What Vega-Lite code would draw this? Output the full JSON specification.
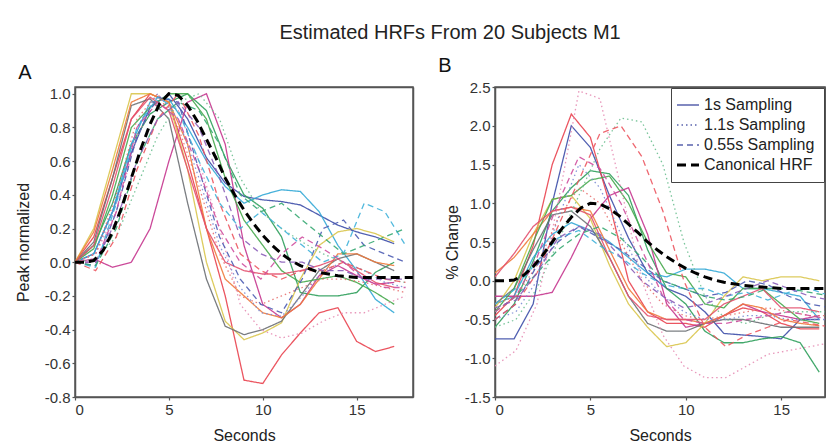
{
"$schema":"https://vega.github.io/schema/vega-lite/v6.json",
"padding":{"left":14,"top":23,"right":0,"bottom":0},
"title":{"text":"Estimated HRFs From 20 Subjects M1","fontSize":20,"fontWeight":"normal","font":"Liberation Sans","color":"#222","anchor":"middle","dx":30,"offset":12},
"config":{"view":{"stroke":"#555","strokeWidth":1.5},"font":"Liberation Sans",
"axis":{"grid":false,"domain":true,"domainColor":"#555","domainWidth":1.5,"labelFont":"Liberation Sans","labelFontSize":15,"labelColor":"#333","titleFont":"Liberation Sans","titleFontSize":16,"titleFontWeight":"normal","titleColor":"#222","tickColor":"#555","tickWidth":1.2,"tickSize":3,"labelPadding":2},
"title":{"font":"Liberation Sans"}},
"datasets":{
"subjects":[{"s":"S01","k":"1s Sampling"},{"s":"S02","k":"1s Sampling"},{"s":"S03","k":"1s Sampling"},{"s":"S04","k":"1s Sampling"},{"s":"S05","k":"1s Sampling"},{"s":"S06","k":"1s Sampling"},{"s":"S07","k":"1s Sampling"},{"s":"S08","k":"1s Sampling"},{"s":"S09","k":"1s Sampling"},{"s":"S10","k":"1s Sampling"},{"s":"S11","k":"1.1s Sampling"},{"s":"S12","k":"1.1s Sampling"},{"s":"S13","k":"1.1s Sampling"},{"s":"S14","k":"1.1s Sampling"},{"s":"S15","k":"0.55s Sampling"},{"s":"S16","k":"0.55s Sampling"},{"s":"S17","k":"0.55s Sampling"},{"s":"S18","k":"0.55s Sampling"},{"s":"S19","k":"0.55s Sampling"},{"s":"S20","k":"0.55s Sampling"},{"s":"HRF","k":"Canonical HRF"}],
"A":[
{"s":"S01","t":0,"v":0},{"s":"S01","t":1,"v":0.05},{"s":"S01","t":2,"v":0.3},{"s":"S01","t":3,"v":0.65},{"s":"S01","t":4,"v":0.92},{"s":"S01","t":5,"v":1.0},{"s":"S01","t":6,"v":0.85},{"s":"S01","t":7,"v":0.62},{"s":"S01","t":8,"v":0.47},{"s":"S01","t":9,"v":0.39},{"s":"S01","t":10,"v":0.37},{"s":"S01","t":11,"v":0.36},{"s":"S01","t":12,"v":0.34},{"s":"S01","t":13,"v":0.28},{"s":"S01","t":14,"v":0.22},{"s":"S01","t":15,"v":0.18},{"s":"S01","t":16,"v":0.15},{"s":"S01","t":17,"v":0.11},
{"s":"S02","t":0,"v":0},{"s":"S02","t":1,"v":0.1},{"s":"S02","t":2,"v":0.35},{"s":"S02","t":3,"v":0.7},{"s":"S02","t":4,"v":0.88},{"s":"S02","t":5,"v":0.95},{"s":"S02","t":6,"v":1.0},{"s":"S02","t":7,"v":0.9},{"s":"S02","t":8,"v":0.62},{"s":"S02","t":9,"v":0.4},{"s":"S02","t":10,"v":0.32},{"s":"S02","t":11,"v":0.15},{"s":"S02","t":12,"v":-0.18},{"s":"S02","t":13,"v":-0.2},{"s":"S02","t":14,"v":-0.2},{"s":"S02","t":15,"v":-0.18},{"s":"S02","t":16,"v":-0.06},{"s":"S02","t":17,"v":0.0},
{"s":"S03","t":0,"v":0},{"s":"S03","t":1,"v":0.15},{"s":"S03","t":2,"v":0.5},{"s":"S03","t":3,"v":0.85},{"s":"S03","t":4,"v":1.0},{"s":"S03","t":5,"v":0.95},{"s":"S03","t":6,"v":0.6},{"s":"S03","t":7,"v":0.2},{"s":"S03","t":8,"v":-0.2},{"s":"S03","t":9,"v":-0.7},{"s":"S03","t":10,"v":-0.72},{"s":"S03","t":11,"v":-0.55},{"s":"S03","t":12,"v":-0.42},{"s":"S03","t":13,"v":-0.3},{"s":"S03","t":14,"v":-0.27},{"s":"S03","t":15,"v":-0.47},{"s":"S03","t":16,"v":-0.53},{"s":"S03","t":17,"v":-0.5},
{"s":"S04","t":0,"v":0},{"s":"S04","t":1,"v":0.05},{"s":"S04","t":2,"v":0.3},{"s":"S04","t":3,"v":0.7},{"s":"S04","t":4,"v":0.95},{"s":"S04","t":5,"v":0.97},{"s":"S04","t":6,"v":0.8},{"s":"S04","t":7,"v":0.6},{"s":"S04","t":8,"v":0.45},{"s":"S04","t":9,"v":0.35},{"s":"S04","t":10,"v":0.4},{"s":"S04","t":11,"v":0.43},{"s":"S04","t":12,"v":0.42},{"s":"S04","t":13,"v":0.3},{"s":"S04","t":14,"v":0.1},{"s":"S04","t":15,"v":-0.05},{"s":"S04","t":16,"v":-0.22},{"s":"S04","t":17,"v":-0.3},
{"s":"S05","t":0,"v":0},{"s":"S05","t":1,"v":0.02},{"s":"S05","t":2,"v":-0.03},{"s":"S05","t":3,"v":0.0},{"s":"S05","t":4,"v":0.2},{"s":"S05","t":5,"v":0.6},{"s":"S05","t":6,"v":0.95},{"s":"S05","t":7,"v":1.0},{"s":"S05","t":8,"v":0.7},{"s":"S05","t":9,"v":0.1},{"s":"S05","t":10,"v":-0.25},{"s":"S05","t":11,"v":-0.33},{"s":"S05","t":12,"v":-0.25},{"s":"S05","t":13,"v":-0.08},{"s":"S05","t":14,"v":-0.02},{"s":"S05","t":15,"v":-0.08},{"s":"S05","t":16,"v":-0.13},{"s":"S05","t":17,"v":-0.12},
{"s":"S06","t":0,"v":0},{"s":"S06","t":1,"v":0.2},{"s":"S06","t":2,"v":0.6},{"s":"S06","t":3,"v":1.0},{"s":"S06","t":4,"v":1.0},{"s":"S06","t":5,"v":0.95},{"s":"S06","t":6,"v":0.55},{"s":"S06","t":7,"v":0.0},{"s":"S06","t":8,"v":-0.35},{"s":"S06","t":9,"v":-0.46},{"s":"S06","t":10,"v":-0.42},{"s":"S06","t":11,"v":-0.36},{"s":"S06","t":12,"v":-0.1},{"s":"S06","t":13,"v":0.1},{"s":"S06","t":14,"v":0.18},{"s":"S06","t":15,"v":0.2},{"s":"S06","t":16,"v":0.17},{"s":"S06","t":17,"v":0.12},
{"s":"S07","t":0,"v":0},{"s":"S07","t":1,"v":0.12},{"s":"S07","t":2,"v":0.5},{"s":"S07","t":3,"v":0.93},{"s":"S07","t":4,"v":0.97},{"s":"S07","t":5,"v":0.85},{"s":"S07","t":6,"v":0.35},{"s":"S07","t":7,"v":-0.1},{"s":"S07","t":8,"v":-0.38},{"s":"S07","t":9,"v":-0.43},{"s":"S07","t":10,"v":-0.4},{"s":"S07","t":11,"v":-0.35},{"s":"S07","t":12,"v":-0.2},{"s":"S07","t":13,"v":-0.05},{"s":"S07","t":14,"v":0.02},{"s":"S07","t":15,"v":0.05},{"s":"S07","t":16,"v":0.0},{"s":"S07","t":17,"v":-0.05},
{"s":"S08","t":0,"v":0},{"s":"S08","t":1,"v":0.18},{"s":"S08","t":2,"v":0.55},{"s":"S08","t":3,"v":0.95},{"s":"S08","t":4,"v":1.0},{"s":"S08","t":5,"v":0.95},{"s":"S08","t":6,"v":0.7},{"s":"S08","t":7,"v":0.2},{"s":"S08","t":8,"v":-0.1},{"s":"S08","t":9,"v":-0.2},{"s":"S08","t":10,"v":-0.3},{"s":"S08","t":11,"v":-0.33},{"s":"S08","t":12,"v":-0.25},{"s":"S08","t":13,"v":-0.1},{"s":"S08","t":14,"v":0.05},{"s":"S08","t":15,"v":0.05},{"s":"S08","t":16,"v":0.0},{"s":"S08","t":17,"v":-0.02},
{"s":"S09","t":0,"v":0},{"s":"S09","t":1,"v":0.08},{"s":"S09","t":2,"v":0.4},{"s":"S09","t":3,"v":0.8},{"s":"S09","t":4,"v":0.92},{"s":"S09","t":5,"v":1.0},{"s":"S09","t":6,"v":1.0},{"s":"S09","t":7,"v":0.85},{"s":"S09","t":8,"v":0.5},{"s":"S09","t":9,"v":0.25},{"s":"S09","t":10,"v":0.1},{"s":"S09","t":11,"v":-0.05},{"s":"S09","t":12,"v":-0.12},{"s":"S09","t":13,"v":-0.1},{"s":"S09","t":14,"v":-0.08},{"s":"S09","t":15,"v":-0.12},{"s":"S09","t":16,"v":-0.18},{"s":"S09","t":17,"v":-0.25},
{"s":"S10","t":0,"v":0},{"s":"S10","t":1,"v":0.1},{"s":"S10","t":2,"v":0.45},{"s":"S10","t":3,"v":0.85},{"s":"S10","t":4,"v":0.98},{"s":"S10","t":5,"v":0.9},{"s":"S10","t":6,"v":0.55},{"s":"S10","t":7,"v":0.2},{"s":"S10","t":8,"v":0.0},{"s":"S10","t":9,"v":-0.05},{"s":"S10","t":10,"v":-0.07},{"s":"S10","t":11,"v":-0.07},{"s":"S10","t":12,"v":-0.05},{"s":"S10","t":13,"v":-0.02},{"s":"S10","t":14,"v":0.02},{"s":"S10","t":15,"v":-0.05},{"s":"S10","t":16,"v":-0.12},{"s":"S10","t":17,"v":-0.15},
{"s":"S11","t":0,"v":0},{"s":"S11","t":1.1,"v":0.02},{"s":"S11","t":2.2,"v":0.15},{"s":"S11","t":3.3,"v":0.45},{"s":"S11","t":4.4,"v":0.75},{"s":"S11","t":5.5,"v":0.95},{"s":"S11","t":6.6,"v":1.0},{"s":"S11","t":7.7,"v":0.85},{"s":"S11","t":8.8,"v":0.5},{"s":"S11","t":9.9,"v":0.3},{"s":"S11","t":11,"v":0.2},{"s":"S11","t":12.1,"v":0.12},{"s":"S11","t":13.2,"v":0.05},{"s":"S11","t":14.3,"v":0.0},{"s":"S11","t":15.4,"v":-0.05},{"s":"S11","t":16.5,"v":-0.1},{"s":"S11","t":17.6,"v":-0.12},
{"s":"S12","t":0,"v":0},{"s":"S12","t":1.1,"v":0.05},{"s":"S12","t":2.2,"v":0.35},{"s":"S12","t":3.3,"v":0.8},{"s":"S12","t":4.4,"v":1.0},{"s":"S12","t":5.5,"v":0.85},{"s":"S12","t":6.6,"v":0.5},{"s":"S12","t":7.7,"v":0.1},{"s":"S12","t":8.8,"v":-0.15},{"s":"S12","t":9.9,"v":-0.3},{"s":"S12","t":11,"v":-0.32},{"s":"S12","t":12.1,"v":-0.2},{"s":"S12","t":13.2,"v":-0.05},{"s":"S12","t":14.3,"v":0.0},{"s":"S12","t":15.4,"v":-0.05},{"s":"S12","t":16.5,"v":-0.12},{"s":"S12","t":17.6,"v":-0.15},
{"s":"S13","t":0,"v":0},{"s":"S13","t":1.1,"v":0.05},{"s":"S13","t":2.2,"v":0.3},{"s":"S13","t":3.3,"v":0.75},{"s":"S13","t":4.4,"v":0.98},{"s":"S13","t":5.5,"v":0.9},{"s":"S13","t":6.6,"v":0.6},{"s":"S13","t":7.7,"v":0.2},{"s":"S13","t":8.8,"v":-0.25},{"s":"S13","t":9.9,"v":-0.4},{"s":"S13","t":11,"v":-0.45},{"s":"S13","t":12.1,"v":-0.42},{"s":"S13","t":13.2,"v":-0.35},{"s":"S13","t":14.3,"v":-0.3},{"s":"S13","t":15.4,"v":-0.3},{"s":"S13","t":16.5,"v":-0.25},{"s":"S13","t":17.6,"v":-0.2},
{"s":"S14","t":0,"v":0},{"s":"S14","t":1.1,"v":0.05},{"s":"S14","t":2.2,"v":0.4},{"s":"S14","t":3.3,"v":0.85},{"s":"S14","t":4.4,"v":1.0},{"s":"S14","t":5.5,"v":0.8},{"s":"S14","t":6.6,"v":0.45},{"s":"S14","t":7.7,"v":0.05},{"s":"S14","t":8.8,"v":-0.2},{"s":"S14","t":9.9,"v":-0.25},{"s":"S14","t":11,"v":-0.2},{"s":"S14","t":12.1,"v":-0.15},{"s":"S14","t":13.2,"v":-0.1},{"s":"S14","t":14.3,"v":-0.1},{"s":"S14","t":15.4,"v":-0.12},{"s":"S14","t":16.5,"v":-0.15},{"s":"S14","t":17.6,"v":-0.18},
{"s":"S15","t":0,"v":0},{"s":"S15","t":1.1,"v":-0.02},{"s":"S15","t":2.2,"v":0.3},{"s":"S15","t":3.3,"v":0.75},{"s":"S15","t":4.4,"v":0.98},{"s":"S15","t":5.5,"v":0.95},{"s":"S15","t":6.6,"v":0.55},{"s":"S15","t":7.7,"v":0.15},{"s":"S15","t":8.8,"v":-0.1},{"s":"S15","t":9.9,"v":-0.25},{"s":"S15","t":11,"v":-0.3},{"s":"S15","t":12.1,"v":-0.1},{"s":"S15","t":13.2,"v":0.2},{"s":"S15","t":14.3,"v":0.25},{"s":"S15","t":15.4,"v":0.1},{"s":"S15","t":16.5,"v":0.05},{"s":"S15","t":17.6,"v":0.0},
{"s":"S16","t":0,"v":0},{"s":"S16","t":1.1,"v":-0.03},{"s":"S16","t":2.2,"v":0.35},{"s":"S16","t":3.3,"v":0.8},{"s":"S16","t":4.4,"v":0.98},{"s":"S16","t":5.5,"v":0.9},{"s":"S16","t":6.6,"v":0.6},{"s":"S16","t":7.7,"v":0.35},{"s":"S16","t":8.8,"v":0.2},{"s":"S16","t":9.9,"v":0.3},{"s":"S16","t":11,"v":0.2},{"s":"S16","t":12.1,"v":0.1},{"s":"S16","t":13.2,"v":0.0},{"s":"S16","t":14.3,"v":0.05},{"s":"S16","t":15.4,"v":0.35},{"s":"S16","t":16.5,"v":0.3},{"s":"S16","t":17.6,"v":0.1},
{"s":"S17","t":0,"v":0},{"s":"S17","t":1.1,"v":-0.02},{"s":"S17","t":2.2,"v":0.2},{"s":"S17","t":3.3,"v":0.6},{"s":"S17","t":4.4,"v":0.85},{"s":"S17","t":5.5,"v":0.95},{"s":"S17","t":6.6,"v":0.9},{"s":"S17","t":7.7,"v":0.7},{"s":"S17","t":8.8,"v":0.4},{"s":"S17","t":9.9,"v":0.3},{"s":"S17","t":11,"v":0.35},{"s":"S17","t":12.1,"v":0.25},{"s":"S17","t":13.2,"v":0.15},{"s":"S17","t":14.3,"v":0.05},{"s":"S17","t":15.4,"v":0.1},{"s":"S17","t":16.5,"v":0.15},{"s":"S17","t":17.6,"v":0.2},
{"s":"S18","t":0,"v":0},{"s":"S18","t":1.1,"v":-0.05},{"s":"S18","t":2.2,"v":0.15},{"s":"S18","t":3.3,"v":0.55},{"s":"S18","t":4.4,"v":0.85},{"s":"S18","t":5.5,"v":1.0},{"s":"S18","t":6.6,"v":0.75},{"s":"S18","t":7.7,"v":0.35},{"s":"S18","t":8.8,"v":0.05},{"s":"S18","t":9.9,"v":-0.05},{"s":"S18","t":11,"v":-0.1},{"s":"S18","t":12.1,"v":-0.05},{"s":"S18","t":13.2,"v":-0.05},{"s":"S18","t":14.3,"v":0.0},{"s":"S18","t":15.4,"v":-0.05},{"s":"S18","t":16.5,"v":-0.1},{"s":"S18","t":17.6,"v":-0.12},
{"s":"S19","t":0,"v":0},{"s":"S19","t":1.1,"v":0.0},{"s":"S19","t":2.2,"v":0.3},{"s":"S19","t":3.3,"v":0.8},{"s":"S19","t":4.4,"v":0.95},{"s":"S19","t":5.5,"v":0.85},{"s":"S19","t":6.6,"v":0.55},{"s":"S19","t":7.7,"v":0.2},{"s":"S19","t":8.8,"v":0.0},{"s":"S19","t":9.9,"v":-0.1},{"s":"S19","t":11,"v":0.05},{"s":"S19","t":12.1,"v":0.15},{"s":"S19","t":13.2,"v":0.08},{"s":"S19","t":14.3,"v":0.0},{"s":"S19","t":15.4,"v":-0.1},{"s":"S19","t":16.5,"v":-0.15},{"s":"S19","t":17.6,"v":-0.15},
{"s":"S20","t":0,"v":0},{"s":"S20","t":1.1,"v":0.0},{"s":"S20","t":2.2,"v":0.25},{"s":"S20","t":3.3,"v":0.6},{"s":"S20","t":4.4,"v":0.85},{"s":"S20","t":5.5,"v":0.95},{"s":"S20","t":6.6,"v":0.8},{"s":"S20","t":7.7,"v":0.5},{"s":"S20","t":8.8,"v":0.15},{"s":"S20","t":9.9,"v":0.05},{"s":"S20","t":11,"v":0.0},{"s":"S20","t":12.1,"v":0.0},{"s":"S20","t":13.2,"v":-0.05},{"s":"S20","t":14.3,"v":-0.05},{"s":"S20","t":15.4,"v":-0.1},{"s":"S20","t":16.5,"v":-0.1},{"s":"S20","t":17.6,"v":-0.1},
{"s":"HRF","t":0,"v":0},{"s":"HRF","t":0.5,"v":0},{"s":"HRF","t":1,"v":0.01},{"s":"HRF","t":1.5,"v":0.07},{"s":"HRF","t":2,"v":0.18},{"s":"HRF","t":2.5,"v":0.33},{"s":"HRF","t":3,"v":0.5},{"s":"HRF","t":3.5,"v":0.67},{"s":"HRF","t":4,"v":0.82},{"s":"HRF","t":4.5,"v":0.94},{"s":"HRF","t":5,"v":1.0},{"s":"HRF","t":5.5,"v":0.99},{"s":"HRF","t":6,"v":0.93},{"s":"HRF","t":6.5,"v":0.84},{"s":"HRF","t":7,"v":0.73},{"s":"HRF","t":7.5,"v":0.62},{"s":"HRF","t":8,"v":0.5},{"s":"HRF","t":8.5,"v":0.4},{"s":"HRF","t":9,"v":0.31},{"s":"HRF","t":9.5,"v":0.23},{"s":"HRF","t":10,"v":0.16},{"s":"HRF","t":10.5,"v":0.1},{"s":"HRF","t":11,"v":0.05},{"s":"HRF","t":11.5,"v":0.01},{"s":"HRF","t":12,"v":-0.02},{"s":"HRF","t":12.5,"v":-0.04},{"s":"HRF","t":13,"v":-0.06},{"s":"HRF","t":13.5,"v":-0.07},{"s":"HRF","t":14,"v":-0.08},{"s":"HRF","t":14.5,"v":-0.085},{"s":"HRF","t":15,"v":-0.09},{"s":"HRF","t":15.5,"v":-0.09},{"s":"HRF","t":16,"v":-0.09},{"s":"HRF","t":16.5,"v":-0.09},{"s":"HRF","t":17,"v":-0.09},{"s":"HRF","t":17.5,"v":-0.09},{"s":"HRF","t":18,"v":-0.09}
],
"B":[
{"s":"S01","t":0,"v":-0.75},{"s":"S01","t":1,"v":-0.75},{"s":"S01","t":2,"v":-0.3},{"s":"S01","t":3,"v":1.0},{"s":"S01","t":4,"v":2.0},{"s":"S01","t":5,"v":1.72},{"s":"S01","t":6,"v":1.1},{"s":"S01","t":7,"v":0.55},{"s":"S01","t":8,"v":0.1},{"s":"S01","t":9,"v":-0.1},{"s":"S01","t":10,"v":-0.2},{"s":"S01","t":11,"v":-0.4},{"s":"S01","t":12,"v":-0.68},{"s":"S01","t":13,"v":-0.7},{"s":"S01","t":14,"v":-0.72},{"s":"S01","t":15,"v":-0.75},{"s":"S01","t":16,"v":-0.5},{"s":"S01","t":17,"v":-0.5},
{"s":"S02","t":0,"v":-0.6},{"s":"S02","t":1,"v":-0.3},{"s":"S02","t":2,"v":0.25},{"s":"S02","t":3,"v":0.9},{"s":"S02","t":4,"v":1.2},{"s":"S02","t":5,"v":1.42},{"s":"S02","t":6,"v":1.38},{"s":"S02","t":7,"v":1.1},{"s":"S02","t":8,"v":0.4},{"s":"S02","t":9,"v":-0.1},{"s":"S02","t":10,"v":-0.3},{"s":"S02","t":11,"v":-0.65},{"s":"S02","t":12,"v":-0.8},{"s":"S02","t":13,"v":-0.8},{"s":"S02","t":14,"v":-0.75},{"s":"S02","t":15,"v":-0.72},{"s":"S02","t":16,"v":-0.8},{"s":"S02","t":17,"v":-1.18},
{"s":"S03","t":0,"v":-0.45},{"s":"S03","t":1,"v":-0.2},{"s":"S03","t":2,"v":0.45},{"s":"S03","t":3,"v":1.5},{"s":"S03","t":4,"v":2.15},{"s":"S03","t":5,"v":1.85},{"s":"S03","t":6,"v":1.0},{"s":"S03","t":7,"v":0.0},{"s":"S03","t":8,"v":-0.4},{"s":"S03","t":9,"v":-0.55},{"s":"S03","t":10,"v":-0.55},{"s":"S03","t":11,"v":-0.6},{"s":"S03","t":12,"v":-0.45},{"s":"S03","t":13,"v":-0.35},{"s":"S03","t":14,"v":-0.4},{"s":"S03","t":15,"v":-0.55},{"s":"S03","t":16,"v":-0.62},{"s":"S03","t":17,"v":-0.62},
{"s":"S04","t":0,"v":-0.3},{"s":"S04","t":1,"v":-0.2},{"s":"S04","t":2,"v":0.3},{"s":"S04","t":3,"v":0.6},{"s":"S04","t":4,"v":0.75},{"s":"S04","t":5,"v":0.65},{"s":"S04","t":6,"v":0.5},{"s":"S04","t":7,"v":0.3},{"s":"S04","t":8,"v":0.1},{"s":"S04","t":9,"v":0.05},{"s":"S04","t":10,"v":0.15},{"s":"S04","t":11,"v":0.15},{"s":"S04","t":12,"v":0.1},{"s":"S04","t":13,"v":-0.1},{"s":"S04","t":14,"v":-0.1},{"s":"S04","t":15,"v":-0.15},{"s":"S04","t":16,"v":-0.2},{"s":"S04","t":17,"v":-0.5},
{"s":"S05","t":0,"v":-0.2},{"s":"S05","t":1,"v":-0.2},{"s":"S05","t":2,"v":-0.2},{"s":"S05","t":3,"v":-0.15},{"s":"S05","t":4,"v":0.3},{"s":"S05","t":5,"v":0.8},{"s":"S05","t":6,"v":1.1},{"s":"S05","t":7,"v":1.2},{"s":"S05","t":8,"v":0.6},{"s":"S05","t":9,"v":-0.3},{"s":"S05","t":10,"v":-0.6},{"s":"S05","t":11,"v":-0.55},{"s":"S05","t":12,"v":-0.45},{"s":"S05","t":13,"v":-0.3},{"s":"S05","t":14,"v":-0.4},{"s":"S05","t":15,"v":-0.45},{"s":"S05","t":16,"v":-0.5},{"s":"S05","t":17,"v":-0.45},
{"s":"S06","t":0,"v":-0.35},{"s":"S06","t":1,"v":0.0},{"s":"S06","t":2,"v":0.6},{"s":"S06","t":3,"v":1.05},{"s":"S06","t":4,"v":1.1},{"s":"S06","t":5,"v":0.8},{"s":"S06","t":6,"v":0.2},{"s":"S06","t":7,"v":-0.3},{"s":"S06","t":8,"v":-0.6},{"s":"S06","t":9,"v":-0.85},{"s":"S06","t":10,"v":-0.8},{"s":"S06","t":11,"v":-0.55},{"s":"S06","t":12,"v":-0.2},{"s":"S06","t":13,"v":0.05},{"s":"S06","t":14,"v":0.0},{"s":"S06","t":15,"v":0.05},{"s":"S06","t":16,"v":0.05},{"s":"S06","t":17,"v":0.0},
{"s":"S07","t":0,"v":-0.3},{"s":"S07","t":1,"v":-0.1},{"s":"S07","t":2,"v":0.4},{"s":"S07","t":3,"v":0.85},{"s":"S07","t":4,"v":0.9},{"s":"S07","t":5,"v":0.7},{"s":"S07","t":6,"v":0.3},{"s":"S07","t":7,"v":-0.2},{"s":"S07","t":8,"v":-0.55},{"s":"S07","t":9,"v":-0.65},{"s":"S07","t":10,"v":-0.65},{"s":"S07","t":11,"v":-0.55},{"s":"S07","t":12,"v":-0.5},{"s":"S07","t":13,"v":-0.5},{"s":"S07","t":14,"v":-0.55},{"s":"S07","t":15,"v":-0.6},{"s":"S07","t":16,"v":-0.6},{"s":"S07","t":17,"v":-0.6},
{"s":"S08","t":0,"v":0.1},{"s":"S08","t":1,"v":0.3},{"s":"S08","t":2,"v":0.6},{"s":"S08","t":3,"v":0.9},{"s":"S08","t":4,"v":0.95},{"s":"S08","t":5,"v":0.9},{"s":"S08","t":6,"v":0.4},{"s":"S08","t":7,"v":-0.1},{"s":"S08","t":8,"v":-0.4},{"s":"S08","t":9,"v":-0.5},{"s":"S08","t":10,"v":-0.5},{"s":"S08","t":11,"v":-0.55},{"s":"S08","t":12,"v":-0.45},{"s":"S08","t":13,"v":-0.3},{"s":"S08","t":14,"v":-0.35},{"s":"S08","t":15,"v":-0.5},{"s":"S08","t":16,"v":-0.55},{"s":"S08","t":17,"v":-0.58},
{"s":"S09","t":0,"v":-0.4},{"s":"S09","t":1,"v":-0.1},{"s":"S09","t":2,"v":0.5},{"s":"S09","t":3,"v":1.05},{"s":"S09","t":4,"v":1.1},{"s":"S09","t":5,"v":1.3},{"s":"S09","t":6,"v":1.35},{"s":"S09","t":7,"v":1.0},{"s":"S09","t":8,"v":0.5},{"s":"S09","t":9,"v":0.1},{"s":"S09","t":10,"v":0.05},{"s":"S09","t":11,"v":-0.3},{"s":"S09","t":12,"v":-0.35},{"s":"S09","t":13,"v":-0.1},{"s":"S09","t":14,"v":-0.1},{"s":"S09","t":15,"v":-0.3},{"s":"S09","t":16,"v":-0.5},{"s":"S09","t":17,"v":-0.55},
{"s":"S10","t":0,"v":0.05},{"s":"S10","t":1,"v":0.35},{"s":"S10","t":2,"v":0.7},{"s":"S10","t":3,"v":0.9},{"s":"S10","t":4,"v":0.95},{"s":"S10","t":5,"v":0.85},{"s":"S10","t":6,"v":0.3},{"s":"S10","t":7,"v":-0.2},{"s":"S10","t":8,"v":-0.45},{"s":"S10","t":9,"v":-0.5},{"s":"S10","t":10,"v":-0.5},{"s":"S10","t":11,"v":-0.5},{"s":"S10","t":12,"v":-0.3},{"s":"S10","t":13,"v":-0.2},{"s":"S10","t":14,"v":-0.1},{"s":"S10","t":15,"v":-0.35},{"s":"S10","t":16,"v":-0.35},{"s":"S10","t":17,"v":-0.4},
{"s":"S11","t":0,"v":-0.6},{"s":"S11","t":1.1,"v":-0.5},{"s":"S11","t":2.2,"v":-0.1},{"s":"S11","t":3.3,"v":0.5},{"s":"S11","t":4.4,"v":1.1},{"s":"S11","t":5.5,"v":1.7},{"s":"S11","t":6.6,"v":2.1},{"s":"S11","t":7.7,"v":2.05},{"s":"S11","t":8.8,"v":1.5},{"s":"S11","t":9.9,"v":0.5},{"s":"S11","t":11,"v":-0.2},{"s":"S11","t":12.1,"v":-0.5},{"s":"S11","t":13.2,"v":-0.55},{"s":"S11","t":14.3,"v":-0.45},{"s":"S11","t":15.4,"v":-0.4},{"s":"S11","t":16.5,"v":-0.4},{"s":"S11","t":17.6,"v":-0.4},
{"s":"S12","t":0,"v":-0.5},{"s":"S12","t":1.1,"v":-0.4},{"s":"S12","t":2.2,"v":0.0},{"s":"S12","t":3.3,"v":0.8},{"s":"S12","t":4.4,"v":1.5},{"s":"S12","t":5.5,"v":1.2},{"s":"S12","t":6.6,"v":0.6},{"s":"S12","t":7.7,"v":0.1},{"s":"S12","t":8.8,"v":-0.2},{"s":"S12","t":9.9,"v":-0.4},{"s":"S12","t":11,"v":-0.5},{"s":"S12","t":12.1,"v":-0.5},{"s":"S12","t":13.2,"v":-0.45},{"s":"S12","t":14.3,"v":-0.45},{"s":"S12","t":15.4,"v":-0.5},{"s":"S12","t":16.5,"v":-0.5},{"s":"S12","t":17.6,"v":-0.5},
{"s":"S13","t":0,"v":-1.1},{"s":"S13","t":1.1,"v":-0.9},{"s":"S13","t":2.2,"v":-0.3},{"s":"S13","t":3.3,"v":1.0},{"s":"S13","t":4.4,"v":2.45},{"s":"S13","t":5.5,"v":2.35},{"s":"S13","t":6.6,"v":1.2},{"s":"S13","t":7.7,"v":0.0},{"s":"S13","t":8.8,"v":-0.7},{"s":"S13","t":9.9,"v":-1.1},{"s":"S13","t":11,"v":-1.25},{"s":"S13","t":12.1,"v":-1.25},{"s":"S13","t":13.2,"v":-1.1},{"s":"S13","t":14.3,"v":-0.95},{"s":"S13","t":15.4,"v":-0.9},{"s":"S13","t":16.5,"v":-0.85},{"s":"S13","t":17.6,"v":-0.8},
{"s":"S14","t":0,"v":-0.3},{"s":"S14","t":1.1,"v":-0.2},{"s":"S14","t":2.2,"v":0.2},{"s":"S14","t":3.3,"v":0.8},{"s":"S14","t":4.4,"v":1.2},{"s":"S14","t":5.5,"v":1.0},{"s":"S14","t":6.6,"v":0.5},{"s":"S14","t":7.7,"v":0.0},{"s":"S14","t":8.8,"v":-0.3},{"s":"S14","t":9.9,"v":-0.45},{"s":"S14","t":11,"v":-0.5},{"s":"S14","t":12.1,"v":-0.45},{"s":"S14","t":13.2,"v":-0.4},{"s":"S14","t":14.3,"v":-0.35},{"s":"S14","t":15.4,"v":-0.4},{"s":"S14","t":16.5,"v":-0.45},{"s":"S14","t":17.6,"v":-0.45},
{"s":"S15","t":0,"v":-0.5},{"s":"S15","t":1.1,"v":-0.3},{"s":"S15","t":2.2,"v":0.2},{"s":"S15","t":3.3,"v":0.5},{"s":"S15","t":4.4,"v":0.7},{"s":"S15","t":5.5,"v":0.55},{"s":"S15","t":6.6,"v":0.4},{"s":"S15","t":7.7,"v":0.2},{"s":"S15","t":8.8,"v":0.0},{"s":"S15","t":9.9,"v":-0.1},{"s":"S15","t":11,"v":-0.2},{"s":"S15","t":12.1,"v":-0.15},{"s":"S15","t":13.2,"v":0.0},{"s":"S15","t":14.3,"v":-0.05},{"s":"S15","t":15.4,"v":-0.2},{"s":"S15","t":16.5,"v":-0.3},{"s":"S15","t":17.6,"v":-0.35},
{"s":"S16","t":0,"v":-0.3},{"s":"S16","t":1.1,"v":-0.1},{"s":"S16","t":2.2,"v":0.25},{"s":"S16","t":3.3,"v":0.55},{"s":"S16","t":4.4,"v":0.65},{"s":"S16","t":5.5,"v":0.45},{"s":"S16","t":6.6,"v":0.3},{"s":"S16","t":7.7,"v":0.1},{"s":"S16","t":8.8,"v":-0.05},{"s":"S16","t":9.9,"v":-0.1},{"s":"S16","t":11,"v":-0.1},{"s":"S16","t":12.1,"v":-0.2},{"s":"S16","t":13.2,"v":-0.15},{"s":"S16","t":14.3,"v":-0.25},{"s":"S16","t":15.4,"v":-0.15},{"s":"S16","t":16.5,"v":-0.1},{"s":"S16","t":17.6,"v":-0.2},
{"s":"S17","t":0,"v":-0.4},{"s":"S17","t":1.1,"v":-0.2},{"s":"S17","t":2.2,"v":0.1},{"s":"S17","t":3.3,"v":0.4},{"s":"S17","t":4.4,"v":0.6},{"s":"S17","t":5.5,"v":0.7},{"s":"S17","t":6.6,"v":0.55},{"s":"S17","t":7.7,"v":0.3},{"s":"S17","t":8.8,"v":0.0},{"s":"S17","t":9.9,"v":-0.1},{"s":"S17","t":11,"v":-0.2},{"s":"S17","t":12.1,"v":-0.25},{"s":"S17","t":13.2,"v":-0.2},{"s":"S17","t":14.3,"v":-0.1},{"s":"S17","t":15.4,"v":-0.1},{"s":"S17","t":16.5,"v":-0.15},{"s":"S17","t":17.6,"v":-0.2},
{"s":"S18","t":0,"v":-0.5},{"s":"S18","t":1.1,"v":-0.3},{"s":"S18","t":2.2,"v":0.1},{"s":"S18","t":3.3,"v":0.7},{"s":"S18","t":4.4,"v":1.3},{"s":"S18","t":5.5,"v":1.9},{"s":"S18","t":6.6,"v":2.0},{"s":"S18","t":7.7,"v":1.6},{"s":"S18","t":8.8,"v":0.9},{"s":"S18","t":9.9,"v":0.0},{"s":"S18","t":11,"v":-0.6},{"s":"S18","t":12.1,"v":-0.85},{"s":"S18","t":13.2,"v":-0.7},{"s":"S18","t":14.3,"v":-0.6},{"s":"S18","t":15.4,"v":-0.5},{"s":"S18","t":16.5,"v":-0.55},{"s":"S18","t":17.6,"v":-0.6},
{"s":"S19","t":0,"v":-0.4},{"s":"S19","t":1.1,"v":-0.2},{"s":"S19","t":2.2,"v":0.3},{"s":"S19","t":3.3,"v":1.0},{"s":"S19","t":4.4,"v":1.6},{"s":"S19","t":5.5,"v":1.45},{"s":"S19","t":6.6,"v":1.0},{"s":"S19","t":7.7,"v":0.4},{"s":"S19","t":8.8,"v":-0.2},{"s":"S19","t":9.9,"v":-0.5},{"s":"S19","t":11,"v":-0.55},{"s":"S19","t":12.1,"v":-0.55},{"s":"S19","t":13.2,"v":-0.5},{"s":"S19","t":14.3,"v":-0.45},{"s":"S19","t":15.4,"v":-0.4},{"s":"S19","t":16.5,"v":-0.45},{"s":"S19","t":17.6,"v":-0.5},
{"s":"S20","t":0,"v":-0.35},{"s":"S20","t":1.1,"v":-0.25},{"s":"S20","t":2.2,"v":0.1},{"s":"S20","t":3.3,"v":0.55},{"s":"S20","t":4.4,"v":0.7},{"s":"S20","t":5.5,"v":0.6},{"s":"S20","t":6.6,"v":0.3},{"s":"S20","t":7.7,"v":0.0},{"s":"S20","t":8.8,"v":-0.2},{"s":"S20","t":9.9,"v":-0.35},{"s":"S20","t":11,"v":-0.3},{"s":"S20","t":12.1,"v":-0.2},{"s":"S20","t":13.2,"v":-0.1},{"s":"S20","t":14.3,"v":0.0},{"s":"S20","t":15.4,"v":-0.1},{"s":"S20","t":16.5,"v":-0.2},{"s":"S20","t":17.6,"v":-0.25},
{"s":"HRF","t":0,"v":0},{"s":"HRF","t":0.5,"v":0},{"s":"HRF","t":1,"v":0.01},{"s":"HRF","t":1.5,"v":0.07},{"s":"HRF","t":2,"v":0.18},{"s":"HRF","t":2.5,"v":0.33},{"s":"HRF","t":3,"v":0.5},{"s":"HRF","t":3.5,"v":0.67},{"s":"HRF","t":4,"v":0.82},{"s":"HRF","t":4.5,"v":0.94},{"s":"HRF","t":5,"v":1.0},{"s":"HRF","t":5.5,"v":0.99},{"s":"HRF","t":6,"v":0.93},{"s":"HRF","t":6.5,"v":0.84},{"s":"HRF","t":7,"v":0.73},{"s":"HRF","t":7.5,"v":0.62},{"s":"HRF","t":8,"v":0.5},{"s":"HRF","t":8.5,"v":0.4},{"s":"HRF","t":9,"v":0.31},{"s":"HRF","t":9.5,"v":0.23},{"s":"HRF","t":10,"v":0.16},{"s":"HRF","t":10.5,"v":0.1},{"s":"HRF","t":11,"v":0.05},{"s":"HRF","t":11.5,"v":0.01},{"s":"HRF","t":12,"v":-0.02},{"s":"HRF","t":12.5,"v":-0.04},{"s":"HRF","t":13,"v":-0.06},{"s":"HRF","t":13.5,"v":-0.07},{"s":"HRF","t":14,"v":-0.08},{"s":"HRF","t":14.5,"v":-0.09},{"s":"HRF","t":15,"v":-0.1},{"s":"HRF","t":15.5,"v":-0.1},{"s":"HRF","t":16,"v":-0.1},{"s":"HRF","t":16.5,"v":-0.1},{"s":"HRF","t":17,"v":-0.1},{"s":"HRF","t":17.5,"v":-0.1}
]},
"spacing":23,
"hconcat":[
{"width":338,"height":310,
"title":{"text":"A","anchor":"start","frame":"bounds","fontSize":20,"fontWeight":"normal","color":"#111","offset":4,"dx":3},
"layer":[
{"data":{"name":"A"},"transform":[{"filter":"datum.s !== 'HRF'"},{"lookup":"s","from":{"data":{"name":"subjects"},"key":"s","fields":["k"]}}],
"mark":{"type":"line","strokeWidth":1.3,"clip":true,"opacity":0.9},
"encoding":{
"x":{"field":"t","type":"quantitative","scale":{"domain":[0,18],"nice":false,"zero":false},"axis":{"title":"Seconds","values":[0,5,10,15],"titlePadding":10}},
"y":{"field":"v","type":"quantitative","scale":{"domain":[-0.8,1.04],"nice":false,"zero":false},"axis":{"title":"Peak normalized","values":[-0.8,-0.6,-0.4,-0.2,0,0.2,0.4,0.6,0.8,1.0],"labelExpr":"replace(format(datum.value,'.1f'),'\u2212','-')","titlePadding":13}},
"color":{"field":"s","type":"nominal","scale":{"domain":["S01","S02","S03","S04","S05","S06","S07","S08","S09","S10","S11","S12","S13","S14","S15","S16","S17","S18","S19","S20"],"range":["#3d4ea8","#2e9e5b","#e9424f","#33a9d6","#c5358e","#d9c54c","#6b6f73","#f07a3c","#46a84c","#e3506e","#6cbf90","#7b8bd3","#e58bb3","#e7706f","#4d5cb2","#3fb1d9","#36a872","#ec5660","#cf4f9f","#8a5db8"]},"legend":null},
"strokeDash":{"field":"k","type":"nominal","scale":{"domain":["1s Sampling","1.1s Sampling","0.55s Sampling","Canonical HRF"],"range":[[1,0],[1.5,3],[6,4],[9,5]]},"legend":null}}},
{"data":{"name":"A"},"transform":[{"filter":"datum.s === 'HRF'"},{"lookup":"s","from":{"data":{"name":"subjects"},"key":"s","fields":["k"]}}],
"mark":{"type":"line","strokeWidth":3,"color":"#000","clip":true},
"encoding":{
"x":{"field":"t","type":"quantitative","axis":{"orient":"top","labels":false,"title":null,"ticks":false}},
"y":{"field":"v","type":"quantitative","axis":{"orient":"right","labels":false,"title":null,"ticks":false}},
"strokeDash":{"field":"k","type":"nominal","scale":{"domain":["1s Sampling","1.1s Sampling","0.55s Sampling","Canonical HRF"],"range":[[1,0],[1.5,3],[6,4],[9,5]]},"legend":null}}}
],
"resolve":{"axis":{"x":"independent","y":"independent"}}},
{"width":330,"height":310,
"title":{"text":"B","anchor":"start","frame":"bounds","fontSize":20,"fontWeight":"normal","color":"#111","offset":4,"dx":-6},
"layer":[
{"data":{"name":"B"},"transform":[{"filter":"datum.s !== 'HRF'"},{"lookup":"s","from":{"data":{"name":"subjects"},"key":"s","fields":["k"]}}],
"mark":{"type":"line","strokeWidth":1.3,"clip":true,"opacity":0.9},
"encoding":{
"x":{"field":"t","type":"quantitative","scale":{"domain":[0,17.3],"nice":false,"zero":false},"axis":{"title":"Seconds","values":[0,5,10,15],"titlePadding":10}},
"y":{"field":"v","type":"quantitative","scale":{"domain":[-1.5,2.5],"nice":false,"zero":false},"axis":{"title":"% Change","values":[-1.5,-1,-0.5,0,0.5,1,1.5,2,2.5],"labelExpr":"replace(format(datum.value,'.1f'),'\u2212','-')","titlePadding":4}},
"color":{"field":"s","type":"nominal","scale":{"domain":["S01","S02","S03","S04","S05","S06","S07","S08","S09","S10","S11","S12","S13","S14","S15","S16","S17","S18","S19","S20"],"range":["#3d4ea8","#2e9e5b","#e9424f","#33a9d6","#c5358e","#d9c54c","#6b6f73","#f07a3c","#46a84c","#e3506e","#6cbf90","#7b8bd3","#e58bb3","#e7706f","#4d5cb2","#3fb1d9","#36a872","#ec5660","#cf4f9f","#8a5db8"]},"legend":null},
"strokeDash":{"field":"k","type":"nominal","scale":{"domain":["1s Sampling","1.1s Sampling","0.55s Sampling","Canonical HRF"],"range":[[1,0],[1.5,3],[6,4],[9,5]]},
"legend":{"title":null,"orient":"top-right","offset":1,"padding":9,"strokeColor":"#444","fillColor":"#fff","labelFontSize":16,"labelColor":"#222","labelFont":"Liberation Sans","symbolType":"stroke","symbolSize":484,"symbolStrokeWidth":1.3,"symbolStrokeColor":"#5a63ad","rowPadding":4,"labelOffset":8,
"encode":{"symbols":{"update":{"stroke":{"signal":"datum.value === 'Canonical HRF' ? '#000' : '#5a63ad'"},"strokeWidth":{"signal":"datum.value === 'Canonical HRF' ? 3 : 1.3"}}}}}}}},
{"data":{"name":"B"},"transform":[{"filter":"datum.s === 'HRF'"},{"lookup":"s","from":{"data":{"name":"subjects"},"key":"s","fields":["k"]}}],
"mark":{"type":"line","strokeWidth":3,"color":"#000","clip":true},
"encoding":{
"x":{"field":"t","type":"quantitative","axis":{"orient":"top","labels":false,"title":null,"ticks":false}},
"y":{"field":"v","type":"quantitative","axis":{"orient":"right","labels":false,"title":null,"ticks":false}},
"strokeDash":{"field":"k","type":"nominal","scale":{"domain":["1s Sampling","1.1s Sampling","0.55s Sampling","Canonical HRF"],"range":[[1,0],[1.5,3],[6,4],[9,5]]},
"legend":{"title":null,"orient":"top-right","offset":1,"padding":9,"strokeColor":"#444","fillColor":"#fff","labelFontSize":16,"labelColor":"#222","labelFont":"Liberation Sans","symbolType":"stroke","symbolSize":484,"symbolStrokeWidth":1.3,"symbolStrokeColor":"#5a63ad","rowPadding":4,"labelOffset":8,
"encode":{"symbols":{"update":{"stroke":{"signal":"datum.value === 'Canonical HRF' ? '#000' : '#5a63ad'"},"strokeWidth":{"signal":"datum.value === 'Canonical HRF' ? 3 : 1.3"}}}}}}}}
],
"resolve":{"axis":{"x":"independent","y":"independent"}}}
],
"resolve":{"scale":{"x":"independent","y":"independent","color":"independent","strokeDash":"independent"},"legend":{"strokeDash":"independent"}}
}
